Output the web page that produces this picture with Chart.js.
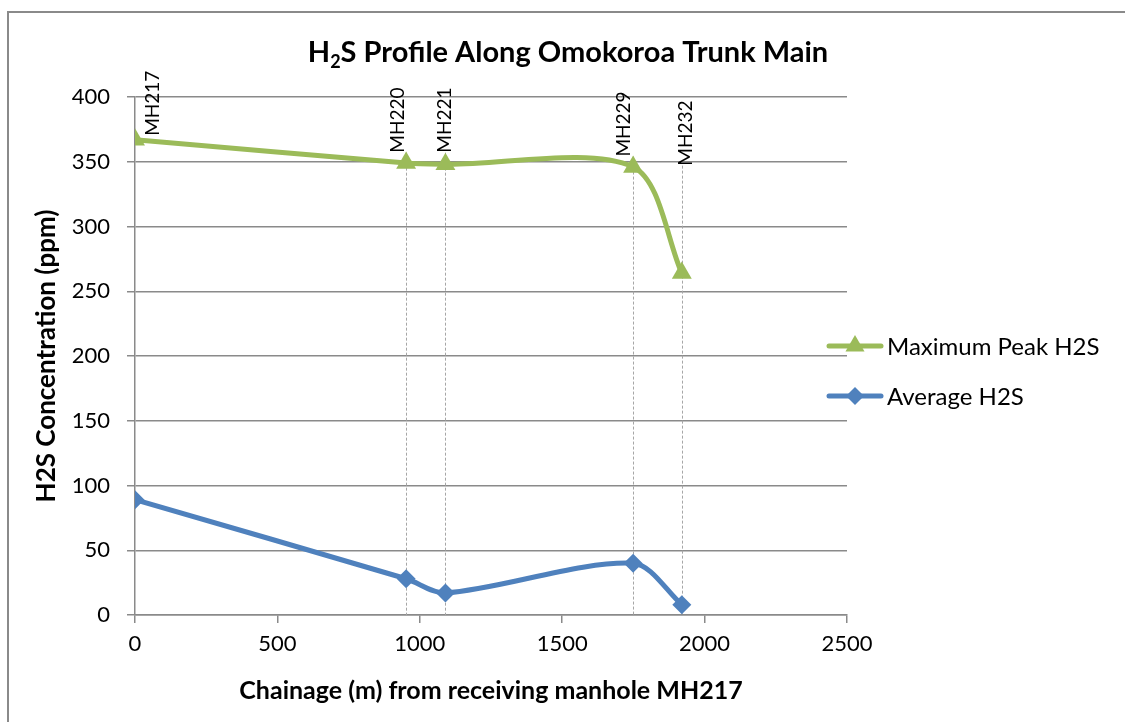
<!DOCTYPE html>
<html>
<head>
<meta charset="utf-8">
<script src="https://cdn.jsdelivr.net/npm/chart.js@4.4.0/dist/chart.umd.min.js"></script>
<style>body{margin:0;background:#fff}</style>
</head>
<body>
<canvas id="h2sChart" width="1125" height="722"></canvas>
<script>
// DATA
const manholes = ['MH217', 'MH220', 'MH221', 'MH229', 'MH232'];
const chainage = [0, 952, 1090, 1749, 1920];
const maxPeak = [367, 349, 348, 346, 264];
const average = [89, 28, 17, 40, 8];
// ppm level where each manhole label sits
const labelLevel = [370, 357, 357, 354, 347];

const FONT = 'Lato, "Open Sans", sans-serif';
const GREEN = '#9BBB59';
const BLUE = '#4F81BD';
const GRID = '#8a8a8a';

// label nudges in px (hand placed in the original)
const labelNudge = [18, -8, -1, -9, 4];

const toPoints = vals => vals.map((v, i) => ({ x: chainage[i], y: v }));

const decorPlugin = {
    id: 'decor',
    beforeDraw(chart) {
        const c = chart.ctx;
        c.save();
        c.fillStyle = '#fff';
        c.fillRect(0, 0, chart.width, chart.height);
        c.strokeStyle = GRID;
        c.lineWidth = 2;
        c.strokeRect(8, 12, chart.width + 10, chart.height + 10);
        c.restore();
    },
    beforeDatasetsDraw(chart) {
        const c = chart.ctx;
        const xs = chart.scales.x, ys = chart.scales.y;
        c.save();
        c.strokeStyle = '#a6a6a6';
        c.lineWidth = 1;
        c.setLineDash([3, 2]);
        chainage.forEach((ch, i) => {
            if (ch === 0) return;
            const px = Math.round(xs.getPixelForValue(ch)) + 0.5;
            c.beginPath();
            c.moveTo(px, ys.getPixelForValue(labelLevel[i]));
            c.lineTo(px, ys.getPixelForValue(0));
            c.stroke();
        });
        c.restore();
    },
    afterDraw(chart) {
        const c = chart.ctx;
        const xs = chart.scales.x, ys = chart.scales.y;
        c.save();

        // manhole labels
        c.fillStyle = '#000';
        c.font = `19px ${FONT}`;
        c.textBaseline = 'middle';
        c.textAlign = 'left';
        manholes.forEach((name, i) => {
            const px = xs.getPixelForValue(chainage[i]) + labelNudge[i];
            const py = ys.getPixelForValue(labelLevel[i]);
            c.save();
            c.translate(px, py);
            c.rotate(-Math.PI / 2);
            c.fillText(name, 0, 0);
            c.restore();
        });

        // title with subscript
        const cx = 568;
        const base = 62;
        const bigFont = `bold 29px ${FONT}`;
        const smallFont = `bold 18px ${FONT}`;
        c.font = bigFont;
        const wH = c.measureText('H').width;
        const rest = 'S Profile Along Omokoroa Trunk Main';
        const wRest = c.measureText(rest).width;
        c.font = smallFont;
        const w2 = c.measureText('2').width;
        let x = cx - (wH + w2 + wRest) / 2;
        c.textBaseline = 'alphabetic';
        c.textAlign = 'left';
        c.font = bigFont;
        c.fillText('H', x, base);
        x += wH;
        c.font = smallFont;
        c.fillText('2', x, base + 6);
        x += w2;
        c.font = bigFont;
        c.fillText(rest, x, base);

        // legend
        const items = [
            { label: 'Maximum Peak H2S', color: GREEN, style: 'triangle', r: 11, y: 346 },
            { label: 'Average H2S', color: BLUE, style: 'rectRot', r: 9, y: 396 }
        ];
        items.forEach(it => {
            c.strokeStyle = it.color;
            c.lineWidth = 5;
            c.lineCap = 'round';
            c.beginPath();
            c.moveTo(829, it.y);
            c.lineTo(881, it.y);
            c.stroke();
            c.fillStyle = it.color;
            Chart.helpers.drawPoint(c, { pointStyle: it.style, radius: it.r, borderWidth: 0 }, 855, it.y);
            c.fillStyle = '#000';
            c.font = `24px ${FONT}`;
            c.textBaseline = 'middle';
            c.fillText(it.label, 887, it.y + 1);
        });
        c.restore();
    }
};

new Chart(document.getElementById('h2sChart'), {
    type: 'line',
    data: {
        datasets: [
            {
                label: 'Maximum Peak H2S',
                data: toPoints(maxPeak),
                borderColor: GREEN,
                backgroundColor: GREEN,
                borderWidth: 5,
                pointStyle: 'triangle',
                pointRadius: 11.5,
                pointBorderWidth: 0,
                tension: 0.3
            },
            {
                label: 'Average H2S',
                data: toPoints(average),
                borderColor: BLUE,
                backgroundColor: BLUE,
                borderWidth: 5,
                pointStyle: 'rectRot',
                pointRadius: 9.5,
                pointBorderWidth: 0,
                tension: 0.3
            }
        ]
    },
    options: {
        responsive: false,
        animation: false,
        layout: { padding: { top: 97, right: 278, left: 0, bottom: 0 } },
        plugins: {
            legend: { display: false },
            tooltip: { enabled: false }
        },
        scales: {
            x: {
                type: 'linear',
                min: 0,
                max: 2500,
                afterFit(scale) { scale.height = 107; },
                ticks: {
                    stepSize: 500, color: '#000', padding: 8,
                    font: { family: FONT, size: 22 },
                    callback: v => String(v)
                },
                grid: { drawOnChartArea: false, tickLength: 8, tickColor: GRID, lineWidth: 1.5 },
                border: { color: GRID, width: 1.5 },
                title: {
                    display: true,
                    text: 'Chainage (m) from receiving manhole MH217',
                    color: '#000',
                    font: { family: FONT, size: 25, weight: 'bold' },
                    padding: { top: 4, bottom: 16 }
                }
            },
            y: {
                min: 0,
                max: 400,
                afterFit(scale) { scale.width = 135; },
                ticks: { stepSize: 50, color: '#000', padding: 17, font: { family: FONT, size: 22 } },
                grid: { color: GRID, lineWidth: 1.5, tickLength: 8, tickColor: GRID },
                border: { color: GRID, width: 1.5 },
                title: {
                    display: true,
                    text: 'H2S Concentration (ppm)',
                    color: '#000',
                    font: { family: FONT, size: 26, weight: 'bold' },
                    padding: { top: 31, bottom: 4 }
                }
            }
        }
    },
    plugins: [decorPlugin]
});
</script>
</body>
</html>
